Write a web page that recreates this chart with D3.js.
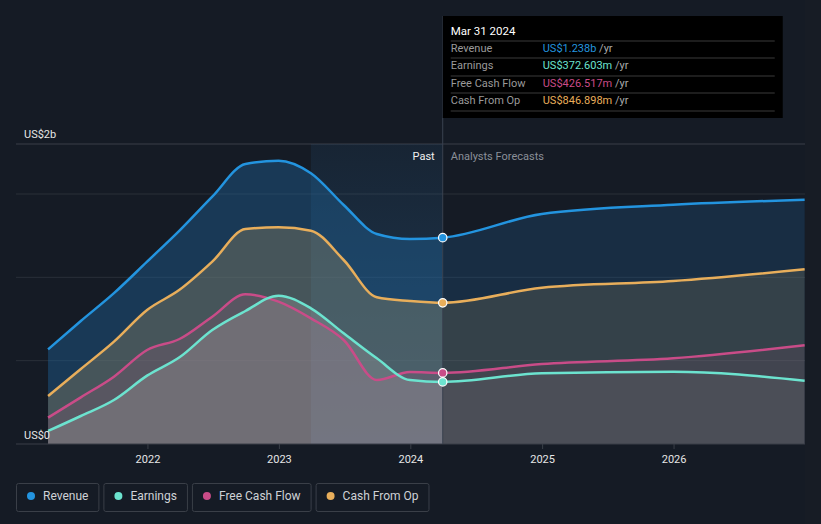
<!DOCTYPE html>
<html><head><meta charset="utf-8">
<script src="https://cdn.jsdelivr.net/npm/d3@7"></script>
<style>
body{margin:0;background:#151b25;font-family:Roboto,"Noto Sans",sans-serif;}
svg{display:block}
</style></head><body>
<svg id="c" width="821" height="524"></svg>
<script>
const dates = ["2021-03-31","2021-06-30","2021-09-30","2021-12-31","2022-03-31","2022-06-30","2022-09-30","2022-12-31","2023-03-31","2023-06-30","2023-09-30","2023-12-31","2024-03-31","2024-12-31","2025-12-31","2026-12-31"];
const revenue  = [0.568,0.738,0.905,1.094,1.28,1.484,1.68,1.70,1.625,1.434,1.26,1.23,1.238,1.38,1.435,1.465];
const earnings = [0.078,0.168,0.264,0.41,0.52,0.684,0.798,0.89,0.814,0.664,0.514,0.384,0.3726,0.424,0.434,0.38];
const fcf      = [0.158,0.28,0.404,0.564,0.63,0.764,0.898,0.854,0.754,0.624,0.384,0.432,0.4265,0.48,0.514,0.592];
const cfo      = [0.288,0.45,0.614,0.804,0.925,1.094,1.29,1.30,1.28,1.104,0.88,0.858,0.847,0.938,0.978,1.048];
const yearTicks = ["2022","2023","2024","2025","2026"];
const seriesNames = ["Revenue","Earnings","Free Cash Flow","Cash From Op"];
const tooltipValues = ["US$1.238b","US$372.603m","US$426.517m","US$846.898m"];
const colors = ["#2394df","#6ce3cf","#c94c88","#e8ae5b"];
const nowDate = "2024-03-31";
const bandStart = "2023-03-31";

const svg = d3.select("#c");
const parse = d3.timeParse("%Y-%m-%d");
const L=16,R=805,T=144,B=444;
const x = d3.scaleTime().domain([parse("2021-01-01"),parse("2027-01-01")]).range([L,R]);
const y = d3.scaleLinear().domain([0,1.8]).range([B,T]);
const pts = s => dates.map((d,i)=>({d:parse(d),v:s[i]}));
const nowX = x(parse(nowDate));

svg.append("rect").attr("x",R).attr("y",0).attr("width",821-R).attr("height",524).attr("fill","#171c25");

const defs = svg.append("defs");
defs.append("clipPath").attr("id","past").append("rect").attr("x",0).attr("y",0).attr("width",nowX).attr("height",B);
defs.append("clipPath").attr("id","fut").append("rect").attr("x",nowX).attr("y",0).attr("width",R-nowX).attr("height",B);
const bg = defs.append("linearGradient").attr("id","band").attr("x1",0).attr("x2",0).attr("y1",0).attr("y2",1);
bg.append("stop").attr("offset","0%").attr("stop-color","#2a6aa0").attr("stop-opacity",0.12);
bg.append("stop").attr("offset","100%").attr("stop-color","#3a7ab0").attr("stop-opacity",0.38);

[0.5,1.0,1.5,1.8].forEach(v=>{
  svg.append("line").attr("x1",L).attr("x2",R).attr("y1",y(v)).attr("y2",y(v))
    .attr("stroke", v===1.8?"#3a3f48":"#2a3039").attr("stroke-width",1);
});

svg.append("rect").attr("x",x(parse(bandStart))).attr("y",T).attr("width",nowX-x(parse(bandStart))).attr("height",B-T).attr("fill","url(#band)");

const curve = d3.curveMonotoneX;
const area = d3.area().x(p=>x(p.d)).y0(y(0)).y1(p=>y(p.v)).curve(curve);
const line = d3.line().x(p=>x(p.d)).y(p=>y(p.v)).curve(curve);
const all = [revenue,earnings,fcf,cfo];
const order = [0,3,2,1];
const fillCol = ["#1f5f93","#a8a6a6","#b86088","#9a8a60"];
const opPast = [0.45,0.3,0.16,0.35];
const opFut  = [0.28,0.1,0.1,0.22];
order.forEach(i=>{
  svg.append("path").attr("d",area(pts(all[i]))).attr("fill",fillCol[i]).attr("fill-opacity",opPast[i]).attr("clip-path","url(#past)");
  svg.append("path").attr("d",area(pts(all[i]))).attr("fill",fillCol[i]).attr("fill-opacity",opFut[i]).attr("clip-path","url(#fut)");
});
order.forEach(i=>{
  svg.append("path").attr("d",line(pts(all[i]))).attr("fill","none").attr("stroke",colors[i]).attr("stroke-width",2.5);
});

svg.append("line").attr("x1",L).attr("x2",R).attr("y1",B).attr("y2",B).attr("stroke","#3a3f48");
const xa = svg.append("g").attr("transform",`translate(0,${B})`)
  .call(d3.axisBottom(x).tickValues(yearTicks.map(t=>parse(t+"-01-01"))).tickFormat(d3.timeFormat("%Y")).tickSize(5).tickPadding(6));
xa.select(".domain").remove();
xa.selectAll(".tick line").attr("stroke","#3a3f48");
xa.selectAll("text").attr("fill","#e6e6e6").attr("font-size",11).attr("font-family","Roboto, sans-serif");

svg.append("line").attr("x1",nowX).attr("x2",nowX).attr("y1",16).attr("y2",B).attr("stroke","#3a4250").attr("stroke-width",1);

[0,3,2,1].forEach(i=>{
  const last = dates.indexOf(nowDate);
  svg.append("circle").attr("cx",nowX).attr("cy",y(all[i][last])).attr("r",4.2).attr("fill",colors[i]).attr("stroke","#fff").attr("stroke-width",1.2);
});

svg.append("text").attr("x",24).attr("y",y(1.8)-6).text("US$2b").attr("fill","#e6e6e6").attr("font-size",11);
svg.append("text").attr("x",24).attr("y",B-5).text("US$0").attr("fill","#e6e6e6").attr("font-size",11);

svg.append("text").attr("x",nowX-8).attr("y",160).attr("text-anchor","end").text("Past").attr("fill","#f0f0f0").attr("font-size",11);
svg.append("text").attr("x",nowX+8).attr("y",160).text("Analysts Forecasts").attr("fill","#8a8f98").attr("font-size",11);

const tt = svg.append("g");
tt.append("rect").attr("x",nowX).attr("y",16).attr("width",340).attr("height",102).attr("fill","#000");
tt.append("text").attr("x",nowX+8).attr("y",35).text("Mar 31 2024").attr("fill","#fff").attr("font-size",11.5);
const rowY=[52,69,87,104];
[41,58,76,93,111].forEach(v=>tt.append("line").attr("x1",nowX+8).attr("x2",nowX+332).attr("y1",v).attr("y2",v).attr("stroke","#3a3a3a"));
seriesNames.forEach((n,i)=>{
  tt.append("text").attr("x",nowX+8).attr("y",rowY[i]).text(n).attr("fill","#9a9a9a").attr("font-size",11);
  const t = tt.append("text").attr("x",nowX+100).attr("y",rowY[i]).attr("font-size",11);
  t.append("tspan").text(tooltipValues[i]).attr("fill",colors[i]);
  t.append("tspan").text(" /yr").attr("fill","#aaa");
});

let lx=16;
seriesNames.forEach((n,i)=>{
  const g = svg.append("g");
  const txt = g.append("text").attr("x",lx+27).attr("y",500).text(n).attr("fill","#cfd2d6").attr("font-size",12);
  const bw = txt.node().getComputedTextLength()+37;
  g.insert("rect","text").attr("x",lx+0.5).attr("y",483.5).attr("width",bw).attr("height",28).attr("rx",2).attr("fill","none").attr("stroke","#3a3f48");
  g.append("circle").attr("cx",lx+15).attr("cy",496).attr("r",4).attr("fill",colors[i]);
  lx += bw+5;
});
</script>
</body></html>
